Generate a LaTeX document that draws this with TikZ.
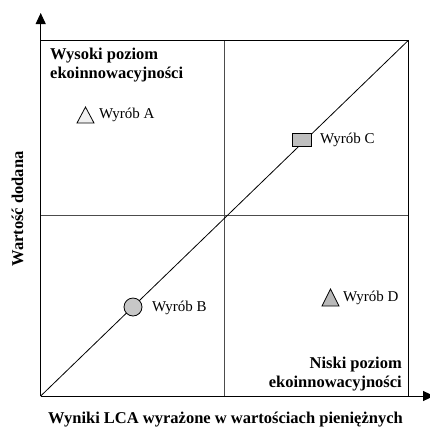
\documentclass[tikz,border=0pt]{standalone}
\usepackage{fontspec}
\setmainfont{Liberation Serif}
\usetikzlibrary{arrows.meta}

\begin{document}
\begin{tikzpicture}[x=1pt,y=1pt]
\tikzstyle{every node}+=[inner sep=0pt]
\tikzstyle{quadtitle}=[font=\fontsize{16.5}{19}\selectfont\bfseries]
\tikzstyle{product}=[font=\fontsize{15}{17}\selectfont, anchor=west]
\tikzstyle{axisline}=[black, line width=1pt, -{Triangle[length=11pt,width=10pt]}]
\useasboundingbox (0,0) rectangle (430,-426);
% quarters
\draw [black!70, line width=1pt] (224,-40.7) -- (224,-396);
\draw [black!70, line width=1pt] (40.7,-215) -- (408,-215);
\draw [black, line width=1pt] (40.7,-40.7) -- (408,-40.7) -- (408,-396);
\draw [black, line width=0.8pt] (40.7,-396) -- (408,-40.7);
% axes
\draw [axisline] (40.7,-396) -- (40.7,-13);
\draw [axisline] (40.7,-396) -- (434,-396);
% products
\draw [black, line width=0.8pt, fill=black!6] (77,-123) -- (85.5,-107) -- (94,-123) -- cycle;
\draw (99,-115) node [product] {Wyrób A};
\node (wc) [draw, line width=0.8pt, fill=black!25, minimum width=19pt, minimum height=13pt] at (302,-140) {};
\draw (320,-140) node [product] {Wyrób C};
\node (wb) [draw, circle, line width=0.8pt, fill=black!22, minimum size=18pt] at (133,-307) {};
\draw (152,-307.5) node [product] {Wyrób B};
\draw [black, line width=0.8pt, fill=black!28] (322,-306) -- (330.5,-289) -- (339,-306) -- cycle;
\draw (343,-298) node [product] {Wyrób D};
% texts
\draw (50,-48) node [quadtitle, anchor=north west, align=left] {Wysoki poziom\\ekoinnowacyjności};
\draw (402,-391.5) node [quadtitle, anchor=south east, align=right] {Niski poziom\\ekoinnowacyjności};
\draw (225.5,-423.6) node [quadtitle, anchor=base] {Wyniki LCA wyrażone w wartościach pieniężnych};
\draw (23,-209) node [quadtitle, anchor=base, rotate=90] {Wartość dodana};
\end{tikzpicture}
\end{document}
